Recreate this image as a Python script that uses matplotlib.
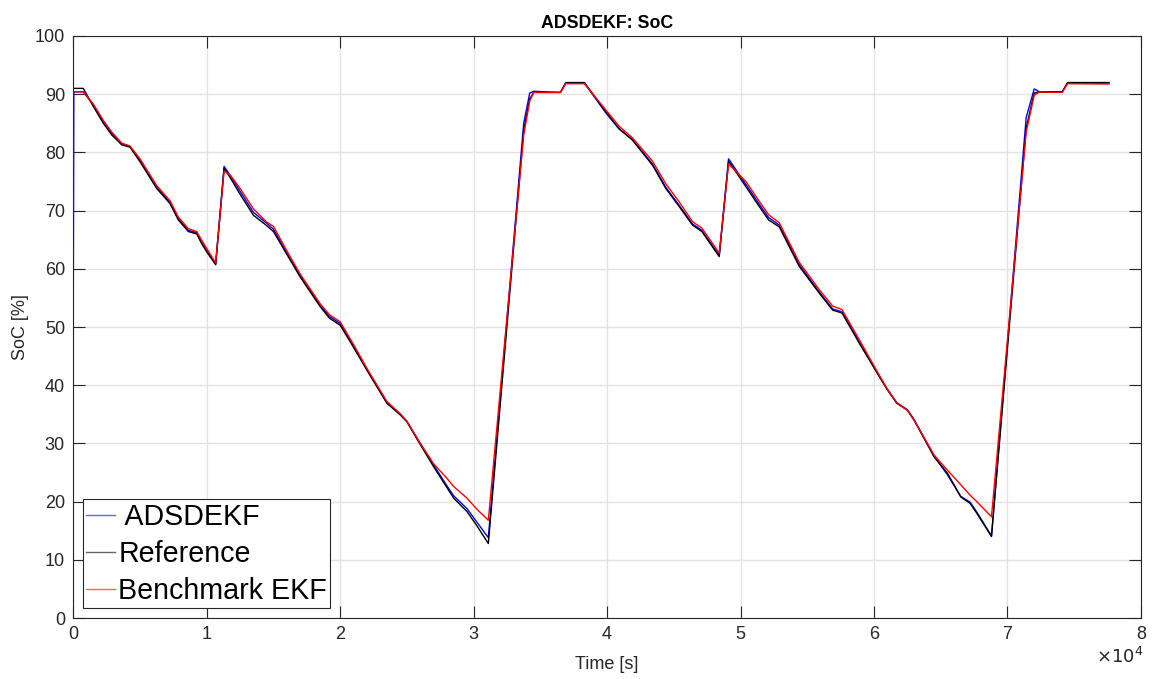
import numpy as np
import matplotlib
matplotlib.use('Agg')
import matplotlib.pyplot as plt

plt.rcParams['font.family'] = ['Liberation Sans', 'DejaVu Sans']

# time [s] shared by all three traces
t = [0, 40, 750, 1500, 2250, 2880, 3630, 4250, 5000, 6250, 7250, 7870, 8620,
     9250, 9600, 10000, 10670, 11300, 11800, 12500, 13500, 14500, 15000, 16000,
     17000, 18500, 19200, 20000, 21000, 22000, 23500, 24500, 25000, 26000,
     27000, 28000, 28500, 29500, 30200, 31100, 33750, 34200, 34500, 36500,
     36900, 38300, 39900, 40900, 41900, 43400, 44400, 45400, 46400, 47100,
     48400, 49100, 50400, 51400, 52100, 52900, 54400, 55900, 56900, 57600,
     58900, 60100, 61000, 61700, 62500, 63000, 64500, 65500, 66500, 67200,
     67700, 68800, 71400, 72000, 72400, 74100, 74500, 77600]

soc_ref = [91.0, 91.0, 91.0, 87.9, 85.0, 83.0, 81.3, 80.9, 78.4, 73.8, 71.2, 68.4, 66.4,
           66.0, 64.4, 62.9, 60.7, 77.3, 75.5, 72.8, 69.2, 67.4, 66.4, 62.5,
           58.6, 53.5, 51.5, 50.3, 46.5, 42.6, 36.9, 34.9, 33.7, 29.8,
           26.0, 22.4, 20.6, 18.3, 16.0, 12.8, 83.8, 89.2, 90.3, 90.3,
           92.0, 92.0, 87.0, 84.1, 82.1, 77.8, 73.8, 70.7, 67.5, 66.4,
           62.1, 78.5, 74.1, 70.7, 68.4, 67.2, 60.4, 55.8, 52.9, 52.4,
           47.2, 42.6, 39.2, 36.9, 35.7, 34.0, 27.7, 24.9, 20.8, 19.7,
           18.0, 14.0, 84.2, 90.2, 90.4, 90.4, 92.0, 92.0]

soc_ads = [54.6, 90.4, 90.4, 88.2, 85.3, 83.3, 81.5, 81.0, 78.6, 74.0, 71.4, 68.6, 66.6,
           66.2, 64.6, 63.1, 60.9, 77.6, 75.9, 73.3, 69.7, 67.8, 66.8, 62.7,
           58.8, 53.7, 51.8, 50.6, 46.7, 42.7, 37.0, 35.0, 33.8, 30.0,
           26.3, 22.7, 21.0, 18.8, 16.6, 13.8, 85.0, 90.2, 90.5, 90.3,
           91.9, 91.9, 86.8, 84.0, 82.2, 78.0, 74.0, 70.9, 67.7, 66.6,
           62.3, 78.9, 74.5, 71.1, 68.8, 67.5, 60.7, 56.0, 53.1, 52.6,
           47.4, 42.7, 39.3, 37.0, 35.8, 34.1, 27.8, 24.6, 20.9, 19.9,
           18.2, 14.1, 86.0, 90.9, 90.4, 90.4, 91.9, 91.9]

soc_ekf = [90.4, 90.4, 90.4, 88.3, 85.5, 83.5, 81.6, 81.1, 78.9, 74.3, 71.7, 68.9, 66.9,
           66.4, 65.0, 63.5, 61.0, 76.8, 76.0, 73.8, 70.3, 68.0, 67.3, 63.1,
           59.1, 54.0, 52.1, 50.9, 47.0, 42.9, 37.2, 35.1, 33.8, 30.0,
           26.5, 24.0, 22.6, 20.6, 18.8, 16.8, 83.0, 88.8, 90.3, 90.3,
           91.8, 91.8, 87.3, 84.5, 82.5, 78.5, 74.6, 71.5, 68.1, 67.0,
           62.7, 78.0, 75.0, 71.6, 69.3, 67.9, 61.1, 56.4, 53.6, 53.0,
           47.8, 42.9, 39.3, 37.0, 35.7, 34.0, 28.0, 25.4, 22.9, 21.1,
           20.0, 17.4, 83.5, 89.8, 90.4, 90.3, 91.8, 91.75]

x_ticks = [0, 1, 2, 3, 4, 5, 6, 7, 8]
y_ticks = list(range(0, 101, 10))

fig = plt.figure(figsize=(11.54, 6.79), dpi=100)
ax = fig.add_axes([0.0635, 0.0898, 0.9252, 0.8572])

ax.plot(t, soc_ads, color='#0000ff', lw=1.0, label=' ADSDEKF')
ax.plot(t, soc_ref, color='#000000', lw=1.0, label='Reference')
ax.plot(t, soc_ekf, color='#ff0000', lw=1.0, label='Benchmark EKF')

ax.set_xlim(0, 8e4)
ax.set_ylim(0, 100)
ax.set_xticks([v * 1e4 for v in x_ticks])
ax.set_xticklabels([str(v) for v in x_ticks])
ax.set_yticks(y_ticks)

ax.grid(True, color='#e3e3e3', lw=1)
ax.set_axisbelow(True)
ax.tick_params(direction='in', length=8.4, width=0.8, colors='#262626',
               labelsize=13, top=True, right=True, pad=6)
for s in ax.spines.values():
    s.set_color('#262626')
    s.set_linewidth(0.8)

ax.set_title('ADSDEKF: SoC', fontsize=12.8, fontweight='bold', pad=6)
ax.set_xlabel('Time [s]', fontsize=13, color='#262626', labelpad=9)
ax.set_ylabel('SoC [%]', fontsize=13, color='#262626', labelpad=4)
fig.text(0.991, 0.018, r'$\times10^{4}$', ha='right', va='bottom',
         fontsize=13, color='#262626')

leg = ax.legend(loc='lower left', bbox_to_anchor=(0.0088, 0.0167),
                fontsize=20.6, frameon=True, fancybox=False, edgecolor='#262626',
                framealpha=1, handlelength=1.0, handletextpad=0.12,
                labelspacing=0.32, borderpad=0.12, borderaxespad=0)
leg.get_frame().set_linewidth(0.8)
for h in leg.get_lines():
    h.set_alpha(0.6)

fig.savefig('out.png', dpi=100)
